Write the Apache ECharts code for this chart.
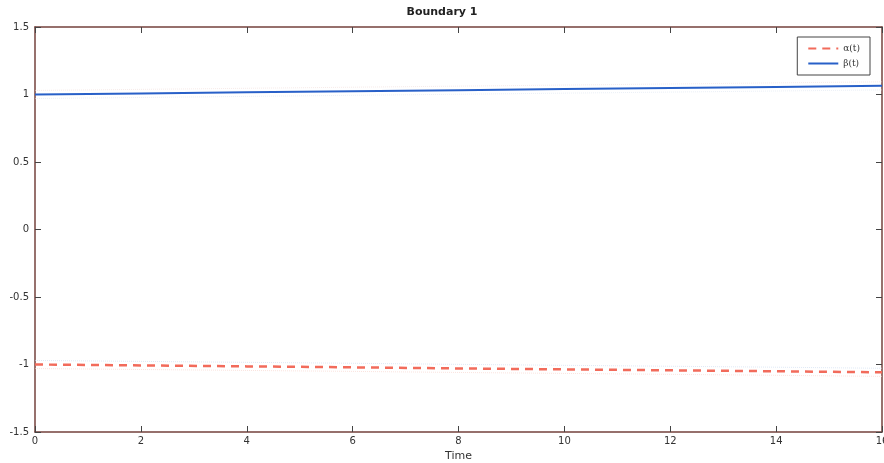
<!DOCTYPE html>
<html><head><meta charset="utf-8">
<script src="https://cdn.jsdelivr.net/npm/echarts@6/dist/echarts.min.js"></script>
<style>html,body{margin:0;padding:0;background:#fff}#c{width:884px;height:463px}</style>
</head><body><div id="c"></div>
<script>
const times = [0, 2, 4, 6, 8, 10, 12, 14, 16];
const alphaVals = [-1.000, -1.007, -1.014, -1.021, -1.029, -1.036, -1.043, -1.050, -1.058];
const betaVals = [1.000, 1.008, 1.016, 1.024, 1.032, 1.040, 1.048, 1.056, 1.064];
const xTicks = [0, 2, 4, 6, 8, 10, 12, 14, 16];
const yTicks = [-1.5, -1, -0.5, 0, 0.5, 1, 1.5];

const frame = '#74423c';
const chart = echarts.init(document.getElementById('c'));
const pair = (xs, ys) => xs.map((x, i) => [x, ys[i]]);
const axBase = () => ({
  axisLine: {show: true, onZero: false, lineStyle: {color: frame, width: 1.5}},
  axisTick: {show: true, inside: true, length: 6, lineStyle: {color: '#444', width: 1}},
  splitLine: {show: false}
});
chart.setOption({
  animation: false,
  title: {text: 'Boundary 1', left: 'center', top: 2, textStyle: {fontFamily: 'DejaVu Sans', fontSize: 11, fontWeight: 'bold', color: '#222'}},
  grid: {left: 35, right: 2, top: 27, bottom: 31, outerBoundsMode: 'none', containLabel: false},
  legend: {
    orient: 'vertical', right: 14, top: 37, itemWidth: 30, itemHeight: 10, itemGap: 6,
    padding: [7, 10, 7, 10], borderColor: '#444', borderWidth: 1, backgroundColor: '#fff',
    itemStyle: {opacity: 0},
    textStyle: {fontFamily: 'DejaVu Serif', fontSize: 9, color: '#333'},
    data: [{name: 'α(t)'}, {name: 'β(t)'}]
  },
  xAxis: [
    Object.assign({type: 'value', min: 0, max: 16, interval: 2, position: 'bottom',
      name: 'Time', nameLocation: 'middle', nameGap: 19,
      nameTextStyle: {fontFamily: 'DejaVu Sans', fontSize: 11, color: '#333'},
      axisLabel: {fontFamily: 'DejaVu Sans', fontSize: 10, color: '#333', margin: 4,
        formatter: v => xTicks.includes(v) ? String(v) : ''}}, axBase()),
    Object.assign({type: 'value', min: 0, max: 16, interval: 2, position: 'top', axisLabel: {show: false}}, axBase())
  ],
  yAxis: [
    Object.assign({type: 'value', min: -1.5, max: 1.5, interval: 0.5, position: 'left',
      axisLabel: {fontFamily: 'DejaVu Sans', fontSize: 10, color: '#333', margin: 6,
        formatter: v => yTicks.includes(v) ? String(v) : ''}}, axBase()),
    Object.assign({type: 'value', min: -1.5, max: 1.5, interval: 0.5, position: 'right', axisLabel: {show: false}}, axBase())
  ],
  series: [
    {name: 'α(t)', type: 'line', symbol: 'none', data: pair(times, alphaVals),
      lineStyle: {color: '#f26b5b', width: 2.5, type: [8, 6]}, itemStyle: {color: '#f26b5b'}, z: 3},
    {name: 'β(t)', type: 'line', symbol: 'none', data: pair(times, betaVals),
      lineStyle: {color: '#2860c8', width: 2}, itemStyle: {color: '#2860c8'}, z: 3},
    {name: 'αband1', type: 'line', symbol: 'none', silent: true, data: pair(times, alphaVals.map(v => v + 0.03)),
      lineStyle: {color: '#c8d8ee', width: 1, type: 'dotted', opacity: 0.6}, z: 1},
    {name: 'αband2', type: 'line', symbol: 'none', silent: true, data: pair(times, alphaVals.map(v => v - 0.03)),
      lineStyle: {color: '#f6d0c8', width: 1, type: 'dotted', opacity: 0.6}, z: 1},
    {name: 'βband1', type: 'line', symbol: 'none', silent: true, data: pair(times, betaVals.map(v => v + 0.03)),
      lineStyle: {color: '#f0d8d4', width: 1, type: 'dotted', opacity: 0.5}, z: 1},
    {name: 'βband2', type: 'line', symbol: 'none', silent: true, data: pair(times, betaVals.map(v => v - 0.03)),
      lineStyle: {color: '#d8e2f0', width: 1, type: 'dotted', opacity: 0.5}, z: 1}
  ]
});
</script></body></html>
